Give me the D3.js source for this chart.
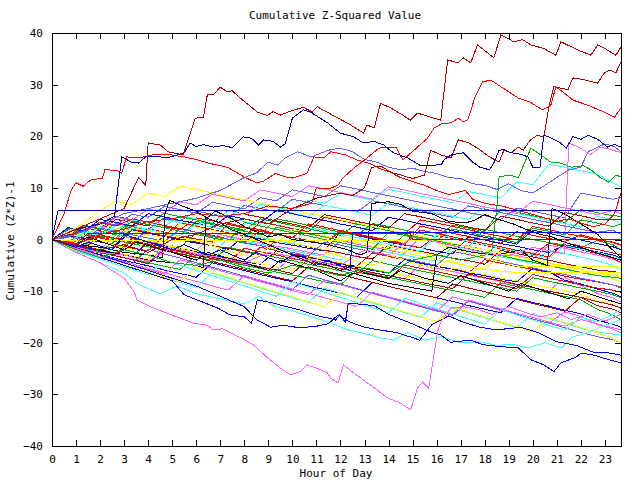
<!DOCTYPE html>
<html>
<head>
<meta charset="utf-8">
<script src="https://cdn.jsdelivr.net/npm/d3@7"></script>
<style>
  body { margin: 0; background: #fff; }
  text { font-family: "DejaVu Sans Mono", monospace; font-size: 11px; fill: #000; }
  .series { fill: none; stroke-width: 1; shape-rendering: crispEdges; }
</style>
</head>
<body>
<div id="chart"></div>
<script>
// 40-minute grid for the background walks (last sample is 23:40)
const stepGrid = [0,0.67,1.33,2,2.67,3.33,4,4.67,5.33,6,6.67,7.33,8,8.67,9.33,10,10.67,11.33,12,12.67,13.33,14,14.67,15.33,16,16.67,17.33,18,18.67,19.33,20,20.67,21.33,22,22.67,23.33,23.67];
const xTicks = [0,1,2,3,4,5,6,7,8,9,10,11,12,13,14,15,16,17,18,19,20,21,22,23];
const yTicks = [-40,-30,-20,-10,0,10,20,30,40];

// background walks, values at stepGrid
const bg01 = [0,-0.6,1.2,0.5,-0.2,-0.8,2.1,1.4,0.7,0.1,-0.5,3.2,2.4,1.9,1.1,0.4,-0.3,-0.9,1.8,1.0,0.5,-0.2,-0.8,2.6,1.9,1.2,0.6,-0.1,-0.7,1.5,0.8,0.2,-0.4,0.9,0.1,-0.6,-1.1];
const bg02 = [0,-0.8,-1.3,1.6,0.9,0.3,-0.4,-1.0,-1.5,1.2,0.6,0.0,-0.7,-1.2,2.4,1.7,1.1,0.5,-0.2,-0.6,-1.3,-1.8,0.9,0.3,-0.3,-0.9,-1.4,2.0,1.3,0.6,0.0,-0.6,-1.1,-1.6,-0.2,-1.0,-2.0];
const bg03 = [0,0.8,0.2,-0.5,-1.1,1.9,1.2,0.6,-0.1,-0.7,-1.2,-1.9,0.7,0.1,-0.6,-1.1,-1.7,-2.2,1.4,0.8,0.1,-0.5,-1.1,-1.6,-2.3,-2.8,0.5,-0.1,-0.8,-1.3,-2.0,-2.5,-1.0,-1.7,-2.4,-3.0,-3.6];
const bg04 = [0,-0.7,-1.4,-1.9,0.9,0.2,-0.4,-1.1,-1.6,-2.3,1.3,0.6,0.0,-0.6,-1.3,-1.8,-2.5,-3.0,-0.2,-0.9,-1.5,-2.0,-2.7,0.6,-0.1,-0.7,-1.3,-2.0,-2.6,-3.1,-3.8,-1.1,-1.7,-2.4,-3.0,-3.8,-4.5];
const bg05 = [0,-1.0,-1.6,-2.3,-2.9,-0.1,-0.8,-1.3,-2.0,-2.6,-3.2,0.4,-0.3,-0.9,-1.6,-2.1,-2.8,-3.3,-4.0,-1.2,-1.8,-2.5,-3.0,-3.7,-4.2,-1.5,-2.2,-2.8,-3.4,-4.0,-4.6,-2.0,-2.7,-3.4,-4.1,-5.0,-5.9];
const bg06 = [0,0.9,0.3,-0.4,-1.0,-1.7,-2.2,0.8,0.1,-0.5,-1.2,-1.7,-2.4,-2.9,-0.1,-0.8,-1.4,-2.1,-2.6,-3.3,-3.8,-1.0,-1.7,-2.3,-2.9,-3.6,-4.1,-4.8,-2.1,-2.7,-3.4,-4.0,-4.7,-5.3,-5.9,-6.2,-6.5];
const bg07 = [0,1.6,0.9,0.3,-0.3,2.4,1.7,1.1,0.4,-0.2,-0.8,1.8,1.2,0.5,-0.1,-0.8,-1.3,-2.0,0.6,-0.1,-0.7,-1.3,-2.0,-2.6,-3.1,-0.7,-1.4,-2.0,-2.6,-3.3,-3.9,-4.5,-5.1,-5.8,-6.4,-7.0,-7.5];
const bg08 = [0,0.4,1.8,1.2,3.1,2.5,1.9,4.2,3.6,5.5,4.9,4.3,6.6,6.0,5.4,7.8,7.2,6.6,6.0,5.3,7.5,6.9,6.2,5.6,4.9,4.3,6.5,5.9,5.2,4.6,3.9,3.3,2.6,2.0,1.4,1.8,1.0];
const bg09 = [0,-0.9,-1.5,-2.0,-2.7,0.2,-0.5,-1.1,-1.8,-2.3,-3.0,-3.5,-4.2,-1.5,-2.1,-2.8,-3.3,-4.0,-4.6,-5.2,-2.6,-3.3,-3.9,-4.5,-5.2,-5.7,-6.4,-3.9,-4.6,-5.2,-5.8,-6.4,-7.1,-7.7,-8.2,-8.8,-9.2];
const bg10 = [0,-0.5,1.4,0.7,0.1,2.6,2.0,1.3,0.7,3.5,2.9,2.2,1.6,0.9,4.0,3.4,2.7,2.1,1.4,0.8,3.1,2.5,1.8,1.2,0.5,2.8,2.2,1.5,5.9,5.3,4.6,4.0,3.3,5.8,5.2,4.6,4.5];
const bg11 = [0,-0.8,-1.5,-2.1,-2.8,-3.3,-0.5,-1.2,-1.8,-2.4,-3.1,-3.6,-4.3,-4.8,-2.2,-2.9,-3.5,-4.1,-4.8,-5.3,-6.0,-6.5,-3.9,-4.6,-5.2,-5.8,-6.5,-7.0,-7.7,-8.2,-5.6,-6.3,-7.9,-8.6,-9.6,-10.4,-11.1];
const bg12 = [0,-1.2,-1.9,-2.5,-3.2,-3.8,-4.4,-1.6,-2.3,-2.9,-3.6,-4.1,-4.8,-5.4,-6.0,-3.3,-3.9,-4.6,-5.2,-5.8,-6.5,-7.0,-7.7,-4.9,-5.6,-6.2,-6.9,-7.5,-8.1,-8.8,-9.3,-10.0,-7.3,-8.9,-10.4,-11.3,-12.1];
const bg13 = [0,-0.9,1.3,0.7,2.8,2.2,1.5,3.9,3.3,2.6,4.8,4.2,3.5,2.9,5.7,5.1,4.4,6.6,6.0,5.3,4.7,7.1,6.5,5.8,5.2,4.5,3.9,6.3,5.7,5.0,4.4,3.7,3.1,2.4,4.5,3.8,3.0];
const bg14 = [0,-0.6,-1.3,-1.9,-2.6,-3.1,-3.8,-0.9,-1.6,-2.2,-2.9,-3.4,-4.1,-4.7,-5.3,-6.0,-3.2,-3.9,-4.5,-5.2,-5.7,-6.4,-7.0,-7.6,-8.3,-5.5,-6.2,-6.8,-7.5,-8.0,-8.7,-9.3,-9.9,-10.6,-11.9,-12.6,-13.3];
const bg15 = [0,-1.0,-1.7,-2.3,-3.0,-0.2,-0.9,-1.5,-2.2,-2.8,-3.4,-4.1,-4.6,-5.3,-5.9,-6.6,-3.8,-4.5,-5.1,-5.7,-6.4,-7.0,-7.6,-8.3,-8.9,-9.5,-6.7,-7.4,-8.0,-8.7,-9.3,-10.0,-10.6,-11.2,-12.8,-13.5,-14.2];
const bg16 = [0,-1.3,0.9,0.3,-0.4,2.0,1.4,0.7,3.2,2.6,1.9,1.3,0.6,3.4,2.8,2.1,1.5,4.3,3.7,3.0,2.4,1.7,1.1,3.8,3.2,2.5,1.9,1.2,0.6,-0.1,2.5,1.9,1.2,0.6,-0.1,-0.5,-1.0];
const bg17 = [0,-1.1,-1.9,-2.6,-3.2,-3.9,-4.5,-5.2,-5.8,-3.0,-3.7,-4.3,-5.0,-5.6,-6.3,-6.9,-7.5,-8.2,-8.8,-6.0,-6.7,-7.3,-8.0,-8.6,-9.3,-9.9,-10.5,-11.2,-8.4,-9.1,-9.7,-10.4,-11.0,-11.7,-13.5,-14.6,-15.6];
const bg18 = [0,-1.4,-2.2,-2.9,-3.7,-4.4,-5.1,-5.9,-6.6,-7.3,-4.5,-5.3,-6.0,-6.8,-7.5,-8.2,-9.0,-9.7,-10.4,-11.2,-8.3,-9.1,-9.8,-10.6,-11.3,-12.0,-12.8,-13.5,-14.2,-11.4,-12.2,-12.9,-13.7,-14.4,-15.6,-16.4,-17.0];
const bg19 = [0,-1.5,-2.4,-3.3,-4.1,-5.0,-5.8,-6.7,-3.9,-4.8,-5.6,-6.5,-7.3,-8.2,-9.0,-9.9,-10.7,-7.9,-8.8,-9.6,-10.5,-11.3,-12.2,-13.0,-13.9,-11.1,-12.0,-12.8,-13.7,-14.5,-15.4,-16.2,-14.0,-14.9,-16.5,-17.3,-18.1];
const bg20 = [0,-1.7,-2.6,-3.6,-4.5,-5.5,-6.4,-7.4,-8.3,-9.3,-6.5,-7.5,-8.4,-9.4,-10.3,-11.3,-12.2,-9.4,-10.4,-11.3,-12.3,-13.2,-14.2,-15.1,-12.3,-13.3,-14.2,-15.2,-16.1,-17.1,-14.3,-15.3,-16.2,-17.2,-17.9,-18.3,-18.5];
const bg21 = [0,-1.2,-2.1,-3.0,-3.8,-4.7,-1.9,-2.8,-3.6,-4.5,-5.4,-6.2,-7.1,-8.0,-8.8,-9.7,-6.9,-7.8,-8.6,-9.5,-10.4,-11.2,-12.1,-13.0,-13.8,-14.7,-11.9,-12.8,-13.6,-14.5,-15.4,-16.2,-17.1,-18.0,-18.8,-19.4,-20.0];
const bg22 = [0,1.3,0.7,2.9,2.2,1.6,0.9,0.3,3.1,2.4,1.8,1.1,0.5,-0.2,-0.8,2.0,1.3,0.7,0.0,-0.6,-1.3,-1.9,-2.6,-3.2,-3.9,-4.5,-5.2,-5.8,-3.0,-3.7,-4.3,-5.0,-5.6,-6.3,-6.9,-7.6,-8.2];
const bg23 = [0,0.6,2.8,2.1,4.5,3.8,3.2,2.5,1.9,4.2,3.6,2.9,2.3,1.6,1.0,0.3,3.0,2.4,1.7,1.1,0.4,-0.2,-0.9,1.8,1.2,0.5,-0.1,-0.8,-1.4,-2.1,-2.7,-3.4,-0.6,-1.3,-1.9,-2.6,-3.0];
const bg24 = [0,2.2,1.5,0.9,0.2,3.6,2.9,2.3,1.6,1.0,0.3,-0.3,3.3,2.6,2.0,1.3,0.7,0.0,-0.6,-1.3,-1.9,1.4,0.8,0.1,-0.5,-1.2,-1.8,-2.5,-3.1,-3.8,-4.4,-5.1,-5.7,-6.4,-7.0,-7.3,-7.5];
const bg25 = [0,0.8,2.3,1.7,3.9,3.3,2.6,5.1,4.4,3.8,3.1,5.6,4.9,4.3,3.6,3.0,2.3,4.8,4.2,3.5,2.9,2.2,5.0,4.4,3.7,3.1,2.4,1.8,4.5,3.9,3.2,2.6,5.2,4.6,3.9,3.8,3.8];
const bg26 = [0,1.4,2.7,2.0,4.3,3.7,5.9,5.2,7.3,6.7,8.8,8.1,7.5,9.6,9.0,8.3,10.4,9.8,9.1,8.5,7.8,10.2,9.6,8.9,8.3,7.6,7.0,6.3,5.7,5.0,7.4,6.8,6.1,5.5,4.8,5.6,5.0];
const bg27 = [0,1.2,0.6,2.5,1.9,3.8,3.2,2.5,4.6,4.0,3.3,5.5,4.9,6.8,6.2,5.5,7.6,7.0,8.9,8.3,7.6,9.7,9.1,8.4,7.8,7.1,9.3,8.7,8.0,11.2,10.6,14.6,14.0,13.3,12.7,11.0,10.2];
const bg28 = [0,1.9,1.3,3.4,2.8,4.9,4.3,6.4,5.8,5.1,7.2,6.6,5.9,8.1,7.5,9.6,9.0,8.3,10.4,9.8,9.1,8.5,7.8,7.2,6.5,5.9,5.2,4.6,3.9,6.1,5.5,4.8,4.2,9.0,8.4,7.8,8.2];
const bg29 = [0,0.5,2.6,2.0,1.3,3.5,2.9,5.1,4.4,3.8,3.1,2.5,1.8,4.0,3.4,2.7,2.1,1.4,0.8,3.0,2.4,1.7,1.1,0.4,-0.2,2.0,1.4,0.7,0.1,-0.6,2.2,1.6,0.9,3.8,3.2,2.5,3.0];
const bg30 = [0,0.7,1.9,3.3,2.6,4.0,3.4,2.7,2.1,1.4,0.8,0.1,-0.5,1.7,1.1,0.4,-0.2,-0.9,1.6,1.0,0.3,-0.3,-1.0,-1.6,0.8,0.2,-0.5,-1.1,-1.8,-2.4,-3.1,-0.7,-1.4,-2.0,-2.7,-3.6,-4.5];
const bg31 = [0,2.3,1.6,3.9,3.3,2.6,5.0,4.4,3.7,3.1,2.4,4.6,4.0,3.3,5.6,5.0,4.3,3.7,3.0,2.4,1.7,4.3,3.7,3.0,2.4,1.7,1.1,0.4,-0.2,-0.9,1.8,1.2,0.5,-0.1,-0.8,-1.4,-2.0];
const bg32 = [0,1.5,3.2,5.6,7.4,6.8,9.0,8.3,10.3,9.7,9.0,8.4,7.7,7.1,6.4,5.8,5.1,4.5,3.8,3.2,2.5,1.9,1.2,0.6,-0.1,-0.7,-1.4,-2.0,-2.7,-3.3,-4.0,-4.6,-5.3,-5.9,-6.6,-6.9,-7.2];
const bg33 = [0,-0.8,1.5,0.9,0.2,2.6,2.0,1.3,0.7,3.0,2.4,1.7,1.1,0.4,-0.2,-0.9,2.3,1.7,1.0,0.4,-0.3,-0.9,-1.6,-2.2,0.9,0.3,-0.4,-1.0,-1.7,-2.3,-3.0,-3.6,-1.2,-1.9,-2.5,-3.2,-3.8];
const bg34 = [0,-1.0,-1.7,-2.3,-0.1,-0.8,-1.4,-2.1,-2.7,-3.4,-4.0,-1.5,-2.2,-2.8,-3.5,-4.1,-4.8,-5.4,-6.1,-6.7,-4.1,-4.8,-5.4,-6.1,-6.7,-7.4,-8.0,-8.7,-9.3,-10.0,-7.4,-8.1,-8.7,-9.4,-10.0,-10.7,-11.3];
const bg35 = [0,-1.3,-2.2,-3.0,-3.9,-4.7,-5.6,-6.4,-7.3,-8.1,-9.0,-9.8,-7.0,-7.9,-8.7,-9.6,-10.4,-11.3,-12.1,-13.0,-10.2,-11.1,-11.9,-12.8,-13.6,-14.5,-11.7,-12.6,-13.4,-14.3,-15.1,-16.0,-16.8,-15.5,-16.3,-17.1,-17.5];
const bg36 = [0,0.6,-0.1,2.2,1.6,0.9,0.3,-0.4,2.0,1.4,0.7,0.1,-0.6,-1.2,-1.9,-2.5,-3.2,-0.5,-1.1,-1.8,-2.4,-3.1,-3.7,-4.4,-5.0,-2.3,-2.9,-3.6,-4.2,-4.9,-5.5,-6.2,-6.8,-7.5,-8.1,-8.8,-9.4];
const bg37 = [0,-0.9,-1.7,-2.4,-3.2,-3.9,-4.7,-2.0,-2.8,-3.5,-4.3,-5.0,-5.8,-6.5,-7.3,-8.0,-5.3,-6.1,-6.8,-7.6,-8.3,-9.1,-9.8,-10.6,-11.3,-8.6,-9.4,-10.1,-10.9,-11.6,-12.4,-13.1,-13.9,-11.2,-12.0,-12.7,-13.3];
const bg38 = [0,-1.6,-2.5,-3.5,-4.4,-5.4,-6.3,-7.3,-8.2,-5.4,-6.4,-7.3,-8.3,-9.2,-10.2,-11.1,-12.1,-13.0,-10.2,-11.2,-12.1,-13.1,-14.0,-15.0,-15.9,-13.1,-14.1,-15.0,-16.0,-16.9,-17.9,-15.1,-16.1,-17.0,-18.0,-19.2,-20.0];
const bg39 = [0,-1.1,-1.8,0.9,0.2,-0.5,-1.1,-1.8,-2.4,-3.1,-3.7,-4.4,-1.7,-2.4,-3.0,-3.7,-4.3,-5.0,-5.6,-6.3,-6.9,-7.6,-4.9,-5.6,-6.2,-6.9,-7.5,-8.2,-8.8,-9.5,-6.8,-7.5,-8.1,-8.8,-9.4,-9.8,-10.2];
const bg40 = [0,-1.8,-2.8,-3.8,-4.8,-5.8,-6.8,-4.0,-5.0,-6.0,-7.0,-8.0,-9.0,-10.0,-11.0,-8.2,-9.2,-10.2,-11.2,-12.2,-13.2,-14.2,-11.4,-12.4,-13.4,-14.4,-15.4,-16.4,-13.6,-14.6,-15.6,-16.6,-17.6,-15.0,-16.0,-14.5,-13.5];
const bgColors = ['#ff0000','#00b000','#0000ff','#ff60ff','#40ffff','#b00000','#ffff00','#6060ff','#ff0000','#00b000',
  '#0000ff','#ff60ff','#40ffff','#ffff00','#b00000','#ff0000','#00b000','#0000ff','#ff60ff','#40ffff',
  '#6060ff','#ffff00','#ff0000','#00b000','#b00000','#ff60ff','#40ffff','#6060ff','#00b000','#ff0000',
  '#0000ff','#ffff00','#40ffff','#00b000','#ff60ff','#6060ff','#b00000','#ffff00','#ff0000','#40ffff'];

// traced walks, [hour, value]
const flatBlue = [[0,0],[0.25,5.6],[23.67,5.6]];
const flatNavy = [[0,0],[1,-1.5],[1.5,-0.5],[2.5,-2],[3,1],[4,-0.5],[5,-2],[5.5,-1],[6.5,-3],[7,-2],[8,-4],[8.5,-2.5],[9.5,-4.5],[10,-3],[11,-5],[11.5,-4],[12.4,-6],[12.5,1.4],[23.67,1.4]];
const flatDarkRed = [[0,0],[1,-0.8],[1.5,1.2],[14.9,1.2],[15,0],[23.67,0]];
const flatYellow = [[0,0],[0.3,-0.1],[15.8,-0.1],[16.8,-2],[18,-3.5],[19,-4.8],[19.5,-5.3],[23.67,-5.3]];
const flatYellow2 = [[0,0],[1,-1],[1.5,0.5],[2.5,-1],[3.5,-2],[4,0],[5,-1.5],[6,-2.5],[6.5,-1],[7.5,-2.5],[8.5,-3.5],[9,-1.5],[10,-3],[11,-4],[11.5,-2.5],[12.5,-4],[13.5,-5],[14,-3],[15,-4.5],[16,-5.5],[16.5,-4],[17.5,-5.5],[18.5,-6],[19.3,-6.4],[23.67,-6.4]];
const blackA = [[0,0],[1,-1],[2,-1.5],[3,-2.5],[4,-3],[4.6,-3.5],[4.7,5],[4.9,7.6],[5.4,6.5],[6,5.5],[6.5,4],[7,3.2],[7.5,1.8],[8,1],[8.5,0],[9,-1],[9.5,-2],[10,-3],[10.5,-3.5],[11,-4.5],[11.5,-5],[12,-6],[12.5,-5],[13,-6.5],[14,-7.5],[14.5,-6],[15.5,-7.5],[16.5,-8.5],[17,-7],[18,-8.5],[19,-10],[19.5,-8.5],[20.5,-10],[21.5,-11.5],[22,-10],[23,-11.5],[23.67,-12.5]];
const blackB = [[0,0],[2,-2],[4,-4],[6,-5],[6.3,-5.5],[6.4,4],[6.8,5.5],[7.5,4],[8,2.5],[8.5,1.5],[9,0.5],[9.5,1],[10,0],[10.8,-0.5],[11.5,-1],[12.3,-2],[12.8,-3],[13.1,-2.5],[13.3,7],[14,7.3],[14.5,6.8],[15,5.5],[15.8,5],[16.5,3.5],[17.2,3.2],[17.6,3.8],[18,4.8],[18.5,4],[19.2,3],[19.7,2],[20.3,1],[20.8,0.5],[21.3,-0.5],[22,-1.5],[22.6,-2.5],[23.2,-3.3],[23.67,-4]];
const blackC = [[0,0],[1,-1],[1.5,0.5],[3,-2],[3.5,-0.5],[5,-2.5],[6,-4],[6.5,-2.5],[8,-4.5],[9,-6],[9.5,-4],[11,-6],[12,-8],[12.5,-6.5],[14,-8.5],[15.8,-10],[16,-3],[16.5,-1.5],[17.5,-2.5],[18.5,-3],[19.5,-2],[20,-4],[20.6,-5],[20.8,6],[21.3,5],[22,3],[22.7,1],[23.2,-1.5],[23.67,-3.5]];
const cyanLow = [[0,0],[1,-2.5],[2,-4.5],[3,-6.5],[3.6,-8.7],[4,-9.5],[4.5,-10.5],[5.2,-9],[6,-10.5],[7,-11.5],[8,-12.5],[8.6,-11],[9.3,-13],[10,-13.8],[10.8,-15],[11.5,-16],[12.3,-17.5],[13,-18.2],[13.6,-19],[14.2,-19.5],[14.8,-18],[15.5,-19.5],[16.2,-18.8],[17,-20],[17.8,-19.8],[18.5,-20.5],[19.2,-20.3],[19.8,-21],[20.5,-20],[21.2,-21],[21.6,-19],[22.3,-18],[22.8,-17],[23.67,-15.5]];
const blueLow2 = [[0,0],[1,-1.5],[2,-3],[3,-4.5],[4,-6],[5,-7.5],[6,-9],[7,-11],[8,-13],[8.5,-15.5],[9.1,-17],[9.6,-16.6],[10.3,-17.1],[11,-16.8],[11.5,-16.3],[11.9,-14.6],[12.4,-16],[13,-17],[13.6,-17.5],[14.3,-18],[15,-19],[15.3,-19.5],[15.8,-16.5],[16.5,-14.8],[17.1,-16],[17.8,-17],[18.5,-17.5],[19.5,-17],[20.2,-18],[21,-19.8],[21.8,-20.5],[22.5,-21.8],[23.2,-22],[23.67,-22.4]];
const blueLow = [[0,0],[1,-2],[2,-3.5],[3,-5],[4,-6.5],[5,-8],[5.5,-10.7],[6.2,-12],[6.9,-13.3],[7.4,-14.6],[8,-15],[8.3,-16.2],[8.54,-11.7],[9.2,-12.3],[9.5,-12.7],[10.2,-13.5],[11,-14.7],[11.46,-15.2],[11.8,-15.6],[11.96,-14.6],[12.2,-16],[12.33,-12.3],[13.4,-12.8],[14,-14.5],[14.92,-16.2],[15.75,-17.9],[16.17,-18.5],[16.58,-19.9],[17.4,-19.5],[17.96,-20.4],[18.8,-20.8],[19.4,-21],[19.92,-23.3],[20.46,-24.3],[20.88,-25.6],[21.17,-23.9],[21.8,-22.8],[22,-22],[22.54,-22.4],[22.96,-23],[23.67,-23.9]];
const pinkLow = [[0,0],[1,-2.5],[2,-4.5],[3,-7.5],[3.4,-10],[3.54,-11.7],[4.08,-13],[5.2,-15],[5.88,-16.2],[6.46,-16.6],[6.7,-17.5],[7.1,-17.3],[7.83,-19],[8.38,-20.4],[8.96,-22.9],[9.5,-24.9],[9.92,-26.2],[10.33,-25.6],[10.62,-24.3],[11.04,-25],[11.46,-25.8],[11.58,-26.8],[11.9,-27.8],[12.12,-24.3],[12.6,-26],[13.25,-28.2],[13.96,-30.7],[14.5,-31.7],[14.92,-33],[15.2,-28.8],[15.42,-27.6],[15.67,-28.8],[16.04,-17.9],[16.17,-16],[16.58,-13.3],[17.1,-13],[17.7,-13.5],[18.3,-14.5],[19,-13],[19.6,-14],[20.3,-15],[21,-14.2],[21.6,-15.5],[22.3,-14.5],[23,-15.8],[23.67,-14.5]];
const greenJump = [[0,0],[1,-2],[2,-3.5],[3,-2],[4,-3],[5,-4.5],[6,-5],[7,-4],[8,-5.5],[9,-6.5],[10,-5],[11,-6],[12,-7],[13,-5.5],[14,-6.5],[15,-4],[16,-3],[17,-4],[18,-3],[18.3,-2],[18.5,6],[18.6,12.1],[19,12.5],[19.4,12],[19.92,17.7],[20.33,16.4],[20.75,15],[21.17,14.8],[21.6,14],[22.1,14.3],[22.42,13.5],[22.83,11.9],[23.17,11.1],[23.46,12.5],[23.67,12.1]];
const pinkJump = [[0,0],[1,-1.5],[2,-2.5],[3,-3],[4,-4.2],[5,-1.5],[6,-2.8],[7,-3.5],[8,-4.5],[9,-2.5],[10,-3.3],[11,-4.2],[12,-5],[13,-2],[14,-3],[15,0.5],[16,-0.5],[17,-1.5],[18,-2.6],[19,-3.2],[20,-1.5],[21,-2.5],[21.3,-2.8],[21.5,18.7],[21.95,17.8],[22.4,16.4],[22.8,17.9],[23.2,17.5],[23.67,16.8]];
const slateHigh = [[0,0],[1,1],[2,3],[3,5],[4,6],[5,7],[6,8],[7,9.5],[8,12],[8.5,12.9],[9,15],[9.4,14.4],[9.7,15.8],[10.2,17],[10.8,16],[11.5,17.3],[12,17.7],[12.5,17],[13,15.5],[13.5,15],[14,14],[14.5,13.5],[15,13.8],[15.5,13.2],[16,12.8],[16.5,12],[17,11.8],[17.5,10.8],[18,10.5],[18.5,9.7],[19,10.8],[19.5,9.5],[20,9],[20.5,10.5],[21,12],[21.5,13.5],[22,14],[22.3,17],[22.7,17.9],[23,18.5],[23.4,18],[23.67,17]];
const redMid = [[0,0],[0.5,5],[0.8,9.6],[1,11],[1.3,10.3],[1.6,11.5],[2.1,11.9],[2.2,13.5],[2.7,13.4],[2.9,12.8],[3.1,16],[3.6,15.8],[4.2,16.4],[4.8,16.5],[5.5,16],[6,15.5],[6.5,14.8],[7.3,14],[8,12.1],[8.5,11],[8.8,11.3],[9.3,12.8],[9.8,12],[10,11.9],[10.6,12.8],[10.9,16],[11.3,15.8],[11.6,17],[12.2,16.4],[12.7,15.4],[13.3,14.6],[13.6,13.8],[14,13.2],[14.5,12],[15,11.2],[15.5,10.5],[16,9.5],[16.5,8.7],[17.2,9.5],[17.5,7.8],[18,7],[18.7,6.5],[19.5,5.5],[20.2,4.6],[21,3.5],[21.5,4],[22,3.2],[22.5,2.5],[23,3],[23.4,5],[23.67,9]];
const darkRedThird = [[0,0],[1,-1],[2,-2],[3,-1],[4,-2.5],[5,0],[6,1],[7,3],[8,4],[9,3],[10,6],[11,8],[12,9],[12.5,8.5],[13,10],[13.3,14],[13.7,14.2],[14.1,13],[14.5,12.5],[15,11.8],[15.5,12.5],[15.75,17.3],[16.17,16.4],[16.6,15.8],[16.9,19.3],[17.3,18.8],[17.7,17.7],[18.2,16],[18.6,15],[18.8,17.3],[19.1,16.8],[19.4,17.9],[19.6,17.3],[19.9,19.3],[20.2,20.2],[20.46,19.8],[20.67,25.7],[20.88,29.6],[21.1,29.4],[21.46,29],[21.67,31.3],[22.1,31],[22.7,30.3],[22.96,32.2],[23.2,32.8],[23.46,32.3],[23.67,34.4]];
const redSecond = [[0,0],[1,-1],[2,1],[3,2],[4,3.5],[5,4],[6,5],[7,4.5],[8,5],[9,6.5],[10,6],[10.8,7],[11,10],[11.5,9.8],[11.9,10.5],[12.1,11.9],[12.6,14],[13,15.4],[13.6,17.7],[13.9,17.9],[14.3,17.9],[14.6,15.4],[15.3,18.3],[15.6,19.5],[15.9,21.6],[16.2,22.4],[16.6,22.6],[16.9,23.5],[17.1,22.8],[17.3,23.2],[17.6,27.6],[17.9,30.5],[18.25,30.9],[18.67,29.6],[19.4,27.4],[19.9,26.6],[20.4,25.1],[20.75,26],[20.96,29.6],[21.25,28.6],[21.67,27],[22.3,26],[22.96,24.7],[23.4,23.7],[23.67,25.5]];
const navySecond = [[0,0],[1,2],[2,3],[2.6,4.5],[2.9,16],[3.3,15],[3.6,14.8],[3.9,16],[4.5,16],[4.8,15.8],[5.5,16.8],[5.75,18.7],[6,18],[6.3,18.4],[6.7,17.9],[7.1,18.2],[7.5,17.8],[7.95,19.9],[8.3,19.6],[8.6,18.3],[8.8,19.3],[9.2,19],[9.5,17.9],[9.7,18.5],[10,23.5],[10.46,25.1],[10.75,24.7],[11.46,22.6],[12,20.6],[12.54,19.9],[12.96,18.7],[13.4,19],[13.8,18.3],[14.2,16.8],[14.8,15.8],[15.3,14.4],[15.9,14.4],[16.2,14.5],[16.3,15.4],[16.6,16.4],[17.1,16.8],[17.5,15],[17.8,14],[18.2,13.5],[18.4,15],[18.6,17.3],[18.8,17.4],[19.1,16.8],[19.5,16.5],[19.8,16],[20,14],[20.3,14],[20.46,20.2],[20.75,19.7],[21.1,18.9],[21.4,17.7],[21.67,19.9],[22,19.4],[22.3,20.2],[22.7,19.4],[23.1,17.9],[23.4,18.4],[23.67,17.9]];
const darkRedTop = [[0,0],[1,2],[2,4],[3,6],[3.6,12],[3.9,10.5],[4,18.7],[4.5,18.3],[4.83,17],[5.46,16.4],[5.96,23.5],[6.3,23.7],[6.46,28],[6.7,28],[7,29.5],[7.3,28.6],[7.5,28.8],[7.83,27.4],[8.04,26.6],[8.54,24.7],[8.96,24],[9.2,24.8],[9.5,24.1],[10,25],[10.46,25.6],[10.83,24.7],[11.04,25.7],[11.67,24.1],[12.42,22.2],[12.96,20.6],[13.1,22.2],[13.4,21.6],[13.67,26.4],[14.08,25.5],[14.6,24.1],[14.9,23.1],[15.2,24.5],[15.75,23.7],[16.17,23.1],[16.46,34.8],[16.88,34.2],[17.1,35.2],[17.42,34.2],[17.7,37.7],[18.38,35.2],[18.67,39.6],[18.96,39],[19.2,38.3],[19.58,38.7],[19.92,37.7],[20.46,37],[20.96,35.7],[21.17,38.3],[21.88,36.7],[22.42,35.7],[22.7,37.7],[22.96,37.1],[23.46,35.7],[23.67,37.3]];

const margin = { top: 33, right: 19, bottom: 34, left: 52 },
  width = 640 - margin.left - margin.right,
  height = 480 - margin.top - margin.bottom;

const svg = d3.select('#chart')
  .append('svg')
  .attr('width', 640)
  .attr('height', 480);

const g = svg.append('g')
  .attr('transform', 'translate(' + margin.left + ',' + margin.top + ')');

const x = d3.scaleLinear().domain([0, 23.67]).range([0, width]);
const y = d3.scaleLinear().domain([-40, 40]).range([height, 0]);

const line = d3.line().x(d => x(d[0])).y(d => y(d[1]));

// background walks first
const bgSeries = [bg01,bg02,bg03,bg04,bg05,bg06,bg07,bg08,bg09,bg10,bg11,bg12,bg13,bg14,bg15,bg16,bg17,
  bg18,bg19,bg20,bg21,bg22,bg23,bg24,bg25,bg26,bg27,bg28,bg29,bg30,bg31,bg32,bg33,bg34,bg35,bg36,bg37,
  bg38,bg39,bg40];
bgSeries.forEach((vals, i) => {
  g.append('path')
    .attr('class', 'series')
    .attr('stroke', bgColors[i])
    .attr('d', line(vals.slice(0, stepGrid.length).map((v, j) => [stepGrid[j], v])));
});

// traced walks
const traced = [
  { pts: flatYellow, color: '#ffff00' },
  { pts: flatYellow2, color: '#ffff00' },
  { pts: flatDarkRed, color: '#b00000' },
  { pts: blackA, color: '#000000' },
  { pts: blackB, color: '#000000' },
  { pts: blackC, color: '#000000' },
  { pts: cyanLow, color: '#40ffff' },
  { pts: blueLow2, color: '#0000ff' },
  { pts: blueLow, color: '#0000ff' },
  { pts: pinkLow, color: '#ff60ff' },
  { pts: greenJump, color: '#00b000' },
  { pts: pinkJump, color: '#ff60ff' },
  { pts: slateHigh, color: '#6060ff' },
  { pts: redMid, color: '#ff0000' },
  { pts: darkRedThird, color: '#b00000' },
  { pts: redSecond, color: '#ff0000' },
  { pts: navySecond, color: '#0000b0' },
  { pts: darkRedTop, color: '#b00000' },
  { pts: flatBlue, color: '#0000b0', w: 2 },
  { pts: flatNavy, color: '#0000ff', w: 2 }
];
traced.forEach(s => {
  g.append('path')
    .attr('class', 'series')
    .attr('stroke', s.color)
    .attr('stroke-width', s.w || 1)
    .attr('d', line(s.pts));
});

// axes, gnuplot style: ticks inward, mirrored
g.append('g')
  .attr('transform', 'translate(0,' + height + ')')
  .call(d3.axisBottom(x).tickValues(xTicks).tickSizeInner(-6).tickSizeOuter(0).tickPadding(9))
  .call(a => a.select('.domain').remove());
g.append('g')
  .call(d3.axisTop(x).tickValues(xTicks).tickSizeInner(-6).tickSizeOuter(0).tickFormat(''))
  .call(a => a.select('.domain').remove());
g.append('g')
  .call(d3.axisLeft(y).tickValues(yTicks).tickSizeInner(-6).tickSizeOuter(0).tickPadding(9))
  .call(a => a.select('.domain').remove());
g.append('g')
  .attr('transform', 'translate(' + width + ',0)')
  .call(d3.axisRight(y).tickValues(yTicks).tickSizeInner(-6).tickSizeOuter(0).tickFormat(''))
  .call(a => a.select('.domain').remove());

g.selectAll('.tick line').attr('stroke', '#000').attr('shape-rendering', 'crispEdges');
g.selectAll('.tick text').attr('font-family', '"DejaVu Sans Mono", monospace').attr('font-size', 11).attr('fill', '#000');

g.append('rect')
  .attr('width', width)
  .attr('height', height)
  .attr('fill', 'none')
  .attr('stroke', '#000')
  .attr('shape-rendering', 'crispEdges');

// titles
svg.append('text')
  .attr('x', 335).attr('y', 19)
  .attr('text-anchor', 'middle')
  .text('Cumulative Z-Squared Value');
svg.append('text')
  .attr('x', 336).attr('y', 477)
  .attr('text-anchor', 'middle')
  .text('Hour of Day');
svg.append('text')
  .attr('transform', 'translate(14,241) rotate(-90)')
  .attr('text-anchor', 'middle')
  .text('Cumulative (Z*Z)-1');
</script>
</body>
</html>
